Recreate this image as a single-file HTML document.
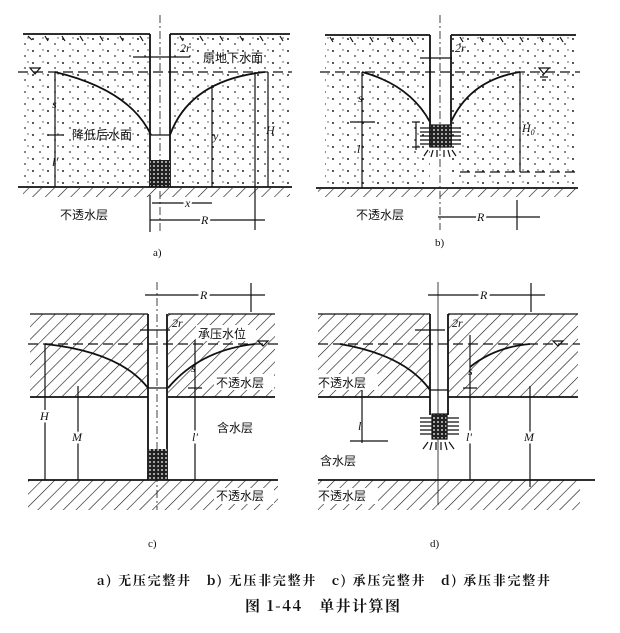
<!DOCTYPE html>
<html><head><meta charset="utf-8">
<style>
html,body{margin:0;padding:0;background:#fff;}
svg{display:block;}
text{font-family:"Liberation Serif","Noto Serif CJK SC","Noto Sans CJK SC",serif;fill:#111;}
.cn{font-family:"Noto Sans CJK SC","WenQuanYi Zen Hei",sans-serif;font-size:12px;}
.it{font-style:italic;font-size:12px;}
</style></head>
<body>
<svg width="620" height="633" viewBox="0 0 620 633" xmlns="http://www.w3.org/2000/svg">
<defs>
<pattern id="dots" width="15" height="12" patternUnits="userSpaceOnUse">
<circle cx="3" cy="3" r="1" fill="#222"/><circle cx="10" cy="8" r="0.9" fill="#333"/><circle cx="13" cy="2" r="0.7" fill="#444"/>
</pattern>
<pattern id="hatch" width="9" height="9" patternUnits="userSpaceOnUse" patternTransform="rotate(45)">
<line x1="0" y1="0" x2="0" y2="9" stroke="#111" stroke-width="1.2"/>
</pattern>
<pattern id="gravel" width="4" height="4" patternUnits="userSpaceOnUse">
<rect width="4" height="4" fill="#222"/><circle cx="2" cy="2" r="1" fill="#ccc"/>
</pattern>
</defs>
<g stroke="#111" fill="none" stroke-width="1.2">

<!-- ===== Panel a ===== -->
<rect x="23" y="36" width="127" height="151" fill="url(#dots)" stroke="none"/>
<rect x="170" y="36" width="120" height="151" fill="url(#dots)" stroke="none"/>
<rect x="23" y="188" width="267" height="9" fill="url(#hatch)" stroke="none"/>
<line x1="23" y1="34" x2="150" y2="34" stroke-width="1.8"/>
<line x1="170" y1="34" x2="290" y2="34" stroke-width="1.8"/>
<path d="M28 36l4 4M45 36l3 5M62 36l3 5M80 36l3 5M100 36l3 5M120 36l3 5M140 36l3 5M180 36l3 5M200 36l3 5M220 36l3 5M240 36l3 5M260 36l3 5M280 36l3 5"/>
<line x1="150" y1="34" x2="150" y2="187" stroke-width="1.8"/>
<line x1="170" y1="34" x2="170" y2="187" stroke-width="1.8"/>
<rect x="150" y="160" width="20" height="27" fill="url(#gravel)" stroke="none"/>
<line x1="160" y1="15" x2="160" y2="232" stroke-width="0.8" stroke-dasharray="8 3 2 3"/>
<line x1="18" y1="72" x2="292" y2="72" stroke-dasharray="10 5"/>
<line x1="18" y1="187" x2="292" y2="187" stroke-width="1.8"/>
<path d="M55 72 Q130 90 151 135" stroke-width="1.8"/>
<path d="M170 135 Q190 80 265 72" stroke-width="1.8"/>
<line x1="151" y1="135" x2="170" y2="135"/>
<path d="M30 68h10l-5 6z"/>
<line x1="55" y1="72" x2="55" y2="187"/>
<line x1="48" y1="135" x2="62" y2="135"/>
<line x1="212" y1="85" x2="212" y2="187"/>
<line x1="255" y1="72" x2="255" y2="230"/>
<line x1="268" y1="72" x2="268" y2="187"/>
<line x1="133" y1="57" x2="190" y2="57"/>
<line x1="152" y1="203" x2="212" y2="203"/>
<line x1="150" y1="220" x2="265" y2="220"/>
<line x1="150" y1="195" x2="150" y2="232"/>
</g>
<text x="180" y="52" class="it">2r</text>
<text x="203" y="62" class="cn">原地下水面</text>
<text x="72" y="139" class="cn">降低后水面</text>
<text x="52" y="108" class="it" font-size="10">s</text>
<text x="52" y="166" class="it">l'</text>
<text x="213" y="140" class="it">y</text>
<text x="266" y="134" class="it">H</text>
<text x="185" y="207" class="it" fill="#fff" stroke="#fff" stroke-width="4">x</text>
<text x="185" y="207" class="it">x</text>
<text x="201" y="224" class="it" fill="#fff" stroke="#fff" stroke-width="5">R</text>
<text x="201" y="224" class="it">R</text>
<text x="60" y="219" class="cn">不透水层</text>
<text x="153" y="256" style="font-size:11px">a)</text>

<g stroke="#111" fill="none" stroke-width="1.2">
<!-- ===== Panel b ===== -->
<rect x="325" y="36" width="105" height="151" fill="url(#dots)" stroke="none"/>
<rect x="451" y="36" width="125" height="151" fill="url(#dots)" stroke="none"/>
<rect x="318" y="189" width="260" height="8" fill="url(#hatch)" stroke="none"/>
<line x1="325" y1="35" x2="430" y2="35" stroke-width="1.8"/>
<line x1="451" y1="35" x2="576" y2="35" stroke-width="1.8"/>
<path d="M330 37l3 5M350 37l3 5M370 37l3 5M390 37l3 5M410 37l3 5M460 37l3 5M480 37l3 5M500 37l3 5M520 37l3 5M540 37l3 5M560 37l3 5"/>
<line x1="430" y1="35" x2="430" y2="147" stroke-width="1.8"/>
<line x1="451" y1="35" x2="451" y2="147" stroke-width="1.8"/>
<line x1="440" y1="15" x2="440" y2="230" stroke-width="0.8" stroke-dasharray="8 3 2 3"/>
<rect x="430" y="125" width="21" height="22" fill="url(#gravel)" stroke="#111"/>
<path d="M420 128h10M420 132h10M420 136h10M420 140h10M420 144h10M451 128h10M451 132h10M451 136h10M451 140h10M451 144h10M428 150l-4 6M433 150l-2 7M437 150v7M444 150v7M448 150l2 7M452 150l4 6"/>
<line x1="320" y1="72" x2="580" y2="72" stroke-dasharray="10 5"/>
<line x1="460" y1="172" x2="578" y2="172" stroke-dasharray="10 5"/>
<line x1="316" y1="188" x2="578" y2="188" stroke-width="1.8"/>
<path d="M362 72 Q410 85 430 122" stroke-width="1.8"/>
<path d="M451 122 Q470 80 520 72" stroke-width="1.8"/>
<path d="M539 68h10l-5 6z M540 77h8M542 80h4"/>
<line x1="362" y1="72" x2="362" y2="188"/>
<line x1="350" y1="122" x2="375" y2="122"/>
<line x1="412" y1="122" x2="420" y2="122"/>
<line x1="412" y1="147" x2="420" y2="147"/>
<line x1="416" y1="122" x2="416" y2="150"/>
<line x1="520" y1="72" x2="520" y2="172"/>
<line x1="420" y1="58" x2="452" y2="58"/>
<line x1="438" y1="217" x2="540" y2="217"/>
<line x1="517" y1="200" x2="517" y2="230"/>
</g>
<text x="455" y="52" class="it">2r</text>
<text x="358" y="102" class="it" font-size="10">s</text>
<text x="357" y="153" class="it">l'</text>
<text x="522" y="132" class="it">H<tspan font-size="8" dy="3">0</tspan></text>
<text x="356" y="219" class="cn">不透水层</text>
<text x="477" y="221" class="it" fill="#fff" stroke="#fff" stroke-width="5">R</text>
<text x="477" y="221" class="it">R</text>
<text x="435" y="246" style="font-size:11px">b)</text>

<g stroke="#111" fill="none" stroke-width="1.2">
<!-- ===== Panel c ===== -->
<rect x="30" y="314" width="118" height="83" fill="url(#hatch)" stroke="none"/>
<rect x="168" y="314" width="107" height="83" fill="url(#hatch)" stroke="none"/>
<rect x="28" y="480" width="250" height="30" fill="url(#hatch)" stroke="none"/>
<line x1="30" y1="314" x2="148" y2="314"/>
<line x1="168" y1="314" x2="275" y2="314"/>
<line x1="30" y1="397" x2="148" y2="397" stroke-width="1.8"/>
<line x1="168" y1="397" x2="275" y2="397" stroke-width="1.8"/>
<line x1="28" y1="344" x2="278" y2="344" stroke-dasharray="10 5"/>
<line x1="28" y1="480" x2="278" y2="480" stroke-width="1.8"/>
<line x1="148" y1="314" x2="148" y2="480" stroke-width="1.8"/>
<line x1="167" y1="314" x2="167" y2="480" stroke-width="1.8"/>
<rect x="148" y="449" width="19" height="31" fill="url(#gravel)" stroke="none"/>
<line x1="157" y1="282" x2="157" y2="510" stroke-width="0.8" stroke-dasharray="8 3 2 3"/>
<path d="M45 344 Q120 352 148 388" stroke-width="1.8"/>
<path d="M168 388 Q200 350 255 344" stroke-width="1.8"/>
<line x1="148" y1="388" x2="167" y2="388"/>
<path d="M258 341h10l-5 5z"/>
<line x1="45" y1="344" x2="45" y2="480"/>
<line x1="78" y1="386" x2="78" y2="480"/>
<line x1="195" y1="340" x2="195" y2="480"/>
<line x1="188" y1="388" x2="202" y2="388"/>
<line x1="145" y1="295" x2="265" y2="295"/>
<line x1="251" y1="283" x2="251" y2="312"/>
<line x1="140" y1="330" x2="170" y2="330"/>
</g>
<text x="172" y="327" class="it" font-size="10">2r</text>
<rect x="196" y="325" width="60" height="16" fill="#fff"/>
<text x="198" y="338" class="cn">承压水位</text>
<text x="191" y="372" class="it" font-size="10">s</text>
<rect x="214" y="374" width="60" height="16" fill="#fff"/>
<text x="216" y="387" class="cn">不透水层</text>
<text x="217" y="432" class="cn">含水层</text>
<rect x="214" y="488" width="60" height="16" fill="#fff"/>
<text x="216" y="500" class="cn">不透水层</text>
<text x="40" y="420" class="it" fill="#fff" stroke="#fff" stroke-width="5">H</text>
<text x="40" y="420" class="it">H</text>
<text x="72" y="441" class="it" fill="#fff" stroke="#fff" stroke-width="5">M</text>
<text x="72" y="441" class="it">M</text>
<text x="192" y="441" class="it" fill="#fff" stroke="#fff" stroke-width="5">l'</text>
<text x="192" y="441" class="it">l'</text>
<text x="200" y="299" class="it" fill="#fff" stroke="#fff" stroke-width="6">R</text>
<text x="200" y="299" class="it">R</text>
<text x="148" y="547" style="font-size:11px">c)</text>

<g stroke="#111" fill="none" stroke-width="1.2">
<!-- ===== Panel d ===== -->
<rect x="318" y="314" width="112" height="83" fill="url(#hatch)" stroke="none"/>
<rect x="448" y="314" width="130" height="83" fill="url(#hatch)" stroke="none"/>
<rect x="318" y="480" width="262" height="30" fill="url(#hatch)" stroke="none"/>
<line x1="318" y1="314" x2="430" y2="314"/>
<line x1="448" y1="314" x2="578" y2="314"/>
<line x1="318" y1="397" x2="430" y2="397" stroke-width="1.8"/>
<line x1="448" y1="397" x2="578" y2="397" stroke-width="1.8"/>
<line x1="318" y1="344" x2="580" y2="344" stroke-dasharray="10 5"/>
<line x1="318" y1="480" x2="595" y2="480" stroke-width="1.8"/>
<line x1="430" y1="314" x2="430" y2="415" stroke-width="1.8"/>
<line x1="448" y1="314" x2="448" y2="415" stroke-width="1.8"/>
<line x1="438" y1="282" x2="438" y2="505" stroke-width="0.8"/>
<rect x="432" y="414" width="15" height="25" fill="url(#gravel)" stroke="#111"/>
<path d="M420 418h12M420 422h12M420 426h12M420 430h12M420 434h12M447 418h12M447 422h12M447 426h12M447 430h12M447 434h12M428 442l-5 7M432 442l-2 8M436 442v8M441 442v8M445 442l2 8M449 442l5 7"/>
<path d="M340 344 Q405 355 430 390" stroke-width="1.8"/>
<path d="M470 367 Q495 347 530 344" stroke-width="1.8"/>
<line x1="430" y1="390" x2="448" y2="390"/>
<path d="M553 341h10l-5 5z"/>
<line x1="470" y1="335" x2="470" y2="480"/>
<line x1="463" y1="388" x2="477" y2="388"/>
<line x1="530" y1="386" x2="530" y2="487"/>
<line x1="362" y1="390" x2="362" y2="443"/>
<line x1="350" y1="441" x2="388" y2="441"/>
<line x1="428" y1="295" x2="545" y2="295"/>
<line x1="531" y1="283" x2="531" y2="312"/>
<line x1="415" y1="330" x2="445" y2="330"/>
</g>
<text x="452" y="327" class="it" font-size="10">2r</text>
<text x="468" y="375" class="it" font-size="10">s</text>
<rect x="316" y="374" width="62" height="16" fill="#fff"/>
<text x="318" y="387" class="cn">不透水层</text>
<text x="320" y="465" class="cn">含水层</text>
<rect x="316" y="488" width="62" height="16" fill="#fff"/>
<text x="318" y="500" class="cn">不透水层</text>
<text x="358" y="430" class="it">l</text>
<text x="466" y="441" class="it" fill="#fff" stroke="#fff" stroke-width="5">l'</text>
<text x="466" y="441" class="it">l'</text>
<text x="524" y="441" class="it" fill="#fff" stroke="#fff" stroke-width="5">M</text>
<text x="524" y="441" class="it">M</text>
<text x="480" y="299" class="it" fill="#fff" stroke="#fff" stroke-width="6">R</text>
<text x="480" y="299" class="it">R</text>
<text x="430" y="547" style="font-size:11px">d)</text>

<!-- caption -->
<text x="97" y="585" textLength="453" lengthAdjust="spacing" style="font-size:13px;font-weight:bold;font-family:'Noto Serif CJK SC','Noto Sans CJK SC',serif">a) 无压完整井　b) 无压非完整井　c) 承压完整井　d) 承压非完整井</text>
<text x="245" y="611" textLength="155" lengthAdjust="spacing" style="font-size:15px;font-weight:bold;font-family:'Noto Serif CJK SC','Noto Sans CJK SC',serif">图 1-44　单井计算图</text>
</svg>
</body></html>
